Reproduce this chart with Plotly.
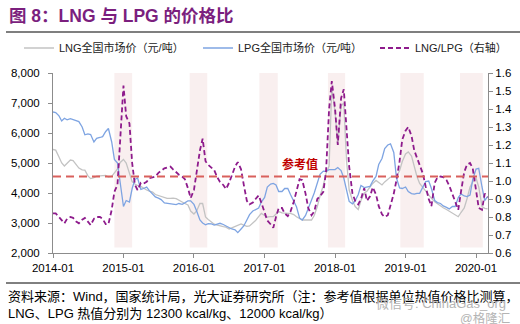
import pandas as pd
import plotly.graph_objects as go
from plotly.subplots import make_subplots

# Semi-monthly observation dates, Jan 2014 – Mar 2020
dates = pd.date_range("2014-01-01", periods=149, freq="SMS")

# LNG national market price (yuan / tonne)
lng_price = [
    5450, 5430, 5200, 5000, 4900, 4980, 5100, 5080, 4950, 4830,
    4770, 4760, 4570, 4480, 4510, 4560, 4570, 4590, 4590, 4530,
    4550, 4670, 4800, 5020, 5120, 5000, 4650, 4380, 4300, 4250,
    4220, 4150, 4100, 4060, 4030, 3950, 3910, 3880, 3840, 3820,
    3820, 3830, 3810, 3750, 3700, 3650, 3600, 3400, 3300, 3400,
    3650, 3650, 3200, 3120, 3030, 2960, 2930, 2900, 2880, 2860,
    2800, 2840, 2880, 2930, 2970, 2930, 2890, 2900, 2990, 3080,
    3210, 3320, 3250, 3200, 3210, 3210, 3300, 3380, 3340, 3320,
    3320, 3320, 3280, 3210, 3150, 3100, 3100, 3100, 3100, 3250,
    3550, 3900, 4250, 4650, 4900, 7500, 6700, 5600, 6900, 7000,
    5100, 4100, 3750, 3550, 3450, 3750, 4000, 4060, 4200, 4320,
    4420, 4350, 4270, 4370, 4450, 4530, 4540, 4550, 4740, 5050,
    5300, 5370, 5230, 4850, 4550, 4320, 4180, 4080, 3920, 3820,
    3710, 3640, 3590, 3510, 3450, 3390, 3320, 3260, 3210, 3350,
    3500, 3800, 4200, 4370, 4500, 4200, 3550, 3490, 3470,
]

# LPG national market price (yuan / tonne)
lpg_price = [
    6700, 6680, 6570, 6400, 6490, 6440, 6480, 6450, 6420, 6380,
    6200, 5940, 5970, 5950, 5700, 5820, 5850, 5880, 6050, 6150,
    5700, 5120, 5000, 4300, 3550, 3750, 3700, 4150, 4450, 4500,
    4120, 4150, 4200, 4080, 3950, 3870, 3830, 3780, 3670, 3660,
    3650, 3620, 3610, 3650, 3620, 3670, 3740, 3740, 3620, 3400,
    3100, 3000, 2940, 2980, 2970, 2930, 2960, 2990, 2950, 2900,
    2830, 2800, 2770, 2680, 2800, 2900, 3100, 3280, 3400, 3440,
    3500, 3700, 3850, 4200, 4300, 4320, 4270, 4050, 4050, 4150,
    4150, 3950, 3720, 3540, 3170, 3100, 3250, 3520, 3770, 4000,
    4300, 4620, 4730, 4720, 4780, 4790, 4780, 4850, 4750, 4500,
    4050, 3720, 3640, 3740, 3950, 4250, 4180, 4200, 4220, 4400,
    4550, 4950, 5150, 5480, 5600, 5640, 5350, 4500, 4170, 4150,
    4200, 4050, 3980, 3960, 3990, 3990, 4200, 4380, 4400, 4150,
    3750, 3680, 3650, 3570, 3520, 3470, 3550, 3550, 3850, 3970,
    3900, 3880, 3930, 4450, 4800, 4820, 4200, 3750, 3880,
]

# LNG / LPG price ratio (right axis)
price_ratio = [
    0.82, 0.82, 0.80, 0.78, 0.765, 0.79, 0.80, 0.795, 0.775, 0.765,
    0.785, 0.795, 0.775, 0.755, 0.79, 0.80, 0.80, 0.79, 0.76, 0.76,
    0.84, 0.94, 0.98, 1.22, 1.53, 1.36, 1.32, 1.10, 0.98, 0.95,
    0.99, 0.985, 0.995, 1.015, 1.02, 1.025, 1.045, 1.055, 1.07, 1.075,
    1.08, 1.065, 1.05, 1.035, 1.025, 1.01, 0.96, 0.905, 0.95, 1.05,
    1.17, 1.235, 1.11, 1.09, 1.075, 1.06, 1.02, 0.995, 0.978, 0.955,
    0.99, 1.03, 1.08, 1.105, 1.065, 0.98, 0.89, 0.87, 0.88, 0.90,
    0.92, 0.88, 0.82, 0.78, 0.76, 0.74, 0.80, 0.85, 0.85, 0.82,
    0.805, 0.83, 0.885, 0.95, 1.01, 1.005, 0.93, 0.85, 0.81, 0.83,
    0.90, 0.915, 0.94, 1.05, 1.40, 1.555, 1.40, 1.20, 1.46, 1.51,
    1.26, 1.08, 0.93, 0.89, 0.87, 0.90, 0.96, 0.89, 0.915, 0.965,
    0.925, 0.86, 0.815, 0.80, 0.81, 0.86, 0.93, 1.005, 1.11, 1.23,
    1.28, 1.30, 1.25, 1.17, 1.13, 1.09, 1.04, 0.97, 0.90, 0.86,
    0.99, 1.02, 1.025, 1.022, 1.005, 0.975, 0.925, 0.88, 0.84, 0.94,
    1.05, 1.09, 1.10, 1.07, 0.96, 0.85, 0.84, 0.93, 0.91,
]

# Heating-season windows shaded in the background
winter_periods = [
    ("2014-11-15", "2015-02-15"),
    ("2015-12-10", "2016-03-10"),
    ("2016-12-05", "2017-03-10"),
    ("2017-11-25", "2018-02-22"),
    ("2018-12-05", "2019-04-05"),
    ("2019-10-10", "2020-02-05"),
]

# Calorific values (kcal/kg); their ratio is the parity reference
LNG_HEAT = 12300
LPG_HEAT = 12000
ref_ratio = LNG_HEAT / LPG_HEAT

year_ticks = ["2014-01", "2015-01", "2016-01", "2017-01", "2018-01", "2019-01", "2020-01"]

W, H = 520, 324
L, R, T, B = 53, 488, 73, 253
PW, PH = R - L, B - T


def px_x(px):
    return (px - L) / PW


def px_y(py):
    return (B - py) / PH


LATIN = "Liberation Sans, Arial, Noto Sans CJK SC"

fig = make_subplots(specs=[[{"secondary_y": True}]])

fig.add_trace(go.Scatter(
    x=dates, y=lng_price, name="LNG全国市场价（元/吨）", mode="lines",
    legend="legend", line=dict(color="#c3c3c3", width=1.3)), secondary_y=False)
fig.add_trace(go.Scatter(
    x=dates, y=lpg_price, name="LPG全国市场价（元/吨）", mode="lines",
    legend="legend2", line=dict(color="#7ea4e2", width=1.3)), secondary_y=False)
fig.add_trace(go.Scatter(
    x=dates, y=price_ratio, name="LNG/LPG（右轴）", mode="lines",
    legend="legend3",
    line=dict(color="#8e1b8c", width=1.8, dash="5px,3px")), secondary_y=True)

shapes = []
for start, end in winter_periods:
    shapes.append(dict(type="rect", xref="x", yref="y2", x0=start, x1=end,
                       y0=0.63, y1=1.6, fillcolor="#f9efef", line_width=0,
                       layer="below"))
shapes.append(dict(type="line", xref="paper", yref="y2", x0=0, x1=1,
                   y0=ref_ratio, y1=ref_ratio,
                   line=dict(color="#d9605c", width=2, dash="8px,5px")))
# rules under the title and above the source note
shapes.append(dict(type="line", xref="paper", yref="paper",
                   x0=px_x(6), x1=px_x(520), y0=px_y(32), y1=px_y(32),
                   line=dict(color="#000000", width=1.2)))
shapes.append(dict(type="line", xref="paper", yref="paper",
                   x0=px_x(6), x1=px_x(520), y0=px_y(283), y1=px_y(283),
                   line=dict(color="#000000", width=1)))

annotations = [
    dict(text="<b>图 8：LNG 与 LPG 的价格比</b>", xref="paper", yref="paper",
         x=px_x(7), y=px_y(16), xanchor="left", yanchor="middle", showarrow=False,
         font=dict(family=LATIN, size=17.5, color="#7b1f7e")),
    dict(text="<b>参考值</b>", xref="x", yref="y2", x="2017-07-01", y=1.10,
         xanchor="center", yanchor="middle", showarrow=False,
         font=dict(family="Noto Sans CJK SC", size=12, color="#c00000")),
    dict(text="资料来源：Wind，国家统计局，光大证券研究所（注：参考值根据单位热值价格比测算，",
         xref="paper", yref="paper", x=px_x(6), y=px_y(296), xanchor="left",
         yanchor="middle", showarrow=False,
         font=dict(family=LATIN, size=13, color="#000000")),
    dict(text=f"LNG、LPG 热值分别为 {LNG_HEAT} kcal/kg、{LPG_HEAT} kcal/kg）",
         xref="paper", yref="paper", x=px_x(6), y=px_y(313), xanchor="left",
         yanchor="middle", showarrow=False,
         font=dict(family=LATIN, size=13, color="#000000")),
    dict(text="微信号: ChinaGas_org", xref="paper", yref="paper",
         x=px_x(374), y=px_y(303), xanchor="left", yanchor="middle",
         showarrow=False,
         font=dict(family=LATIN, size=13, color="#b4b4b4")),
    dict(text="@格隆汇", xref="paper", yref="paper",
         x=px_x(458), y=px_y(318), xanchor="left", yanchor="middle",
         showarrow=False,
         font=dict(family=LATIN, size=12.5, color="#b4b4b4")),
]

axis_common = dict(showgrid=False, zeroline=False, showline=True,
                   linecolor="#8c8c8c", linewidth=1, ticks="outside",
                   ticklen=4, tickcolor="#8c8c8c", automargin=False,
                   tickfont=dict(family=LATIN, size=11.5, color="#000000"))

fig.update_xaxes(**axis_common, type="date", domain=[0, 1],
                 range=["2014-01-01", "2020-03-03"],
                 tickvals=[t + "-01" for t in year_ticks], ticktext=year_ticks)
fig.update_yaxes(**axis_common, range=[2000, 8000], dtick=1000,
                 tickformat=",d", ticklabelstandoff=6, secondary_y=False)
fig.update_yaxes(**axis_common, range=[0.6, 1.6], dtick=0.1,
                 tickformat=".1f", secondary_y=True)

legend_style = dict(orientation="h", xref="container", yref="container",
                    y=1 - 48 / H, xanchor="left", yanchor="middle",
                    font=dict(family=LATIN, size=11, color="#222222"),
                    bgcolor="rgba(0,0,0,0)")

fig.update_layout(
    width=W, height=H,
    margin=dict(l=L, r=W - R, t=T, b=H - B, autoexpand=False),
    paper_bgcolor="#ffffff", plot_bgcolor="#ffffff",
    font=dict(family=LATIN, size=11, color="#222222"),
    shapes=shapes, annotations=annotations,
    showlegend=True,
    legend=dict(**legend_style, x=19 / W),
    legend2=dict(**legend_style, x=198 / W),
    legend3=dict(**legend_style, x=375 / W),
)

fig.write_html("out.html", config={"responsive": False})
